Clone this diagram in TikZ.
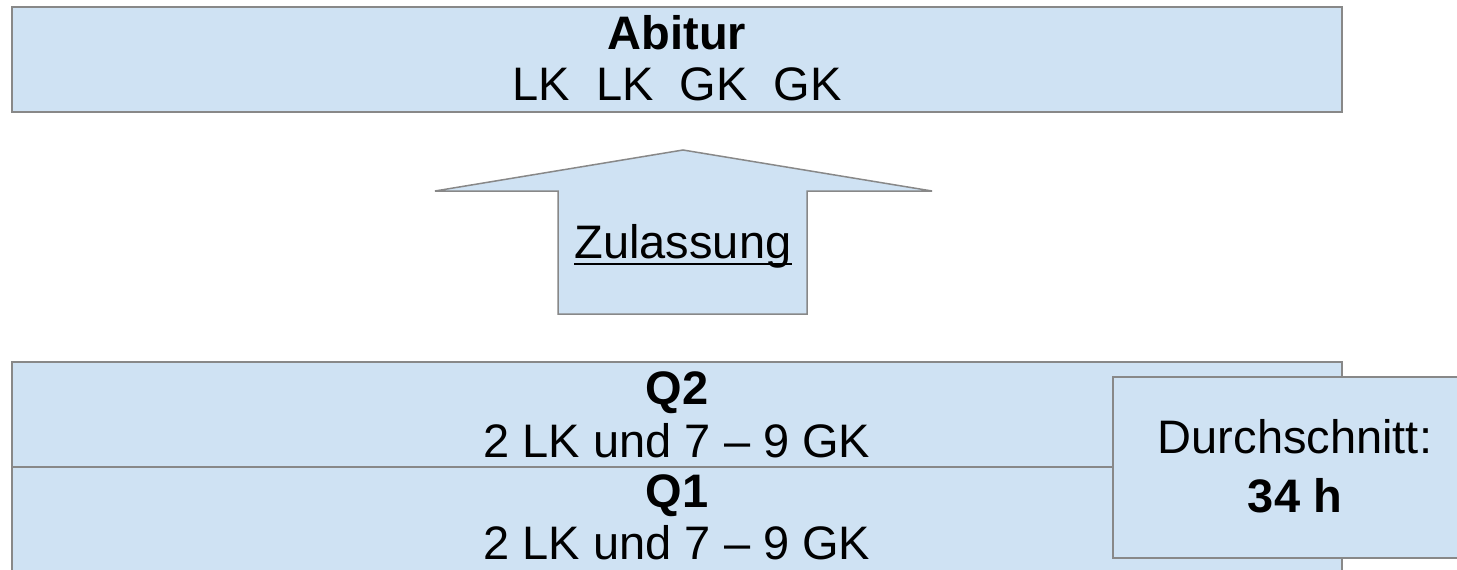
\documentclass[tikz,border=0pt]{standalone}
\usepackage{fontspec}
\setmainfont{Liberation Sans}
\definecolor{boxfill}{HTML}{CFE2F3}
\definecolor{boxline}{HTML}{888888}
\tikzset{
  panel/.style={draw=boxline, fill=boxfill, line width=2pt},
  txt/.style={anchor=base, inner sep=0pt, font=\fontsize{47}{52}\selectfont},
  btxt/.style={txt, font=\fontsize{47}{52}\selectfont\bfseries},
}
\begin{document}
\begin{tikzpicture}[x=1pt, y=-1pt]
\clip (0,0) rectangle (1457,570);
\fill[white] (0,0) rectangle (1457,570);
% top box
\draw[panel] (12,7) rectangle (1342,112);
\node[btxt] (abitur) at (677,49) {Abitur};
\node[txt] (kurse) at (677,100) {LK\ \ LK\ \ GK\ \ GK};
% arrow
\coordinate (tip) at (683,150);
\draw[panel, line width=1.5pt] (558,314) -- (558,191) -- (435,191) -- (tip) -- (932,191) -- (807,191) -- (807,314) -- cycle;
\node[txt] (zul) at (683,258) {Zulassung};
\draw[line width=2pt] ([yshift=-6pt]zul.base west) -- ([yshift=-6pt]zul.base east);
% Q boxes
\draw[panel] (12,362) rectangle (1342,467);
\draw[panel] (12,467) rectangle (1342,590);
\node[btxt] (q2) at (677,404) {Q2};
\node[txt] (q2t) at (677,457) {2 LK und 7 – 9 GK};
\node[btxt] (q1) at (677,507) {Q1};
\node[txt] (q1t) at (677,559) {2 LK und 7 – 9 GK};
% average box
\draw[panel] (1113,377) rectangle (1477,558);
\node[txt] (avg) at (1295,453) {Durchschnitt:};
\node[btxt] (avgv) at (1295,512) {34 h};
\end{tikzpicture}
\end{document}
